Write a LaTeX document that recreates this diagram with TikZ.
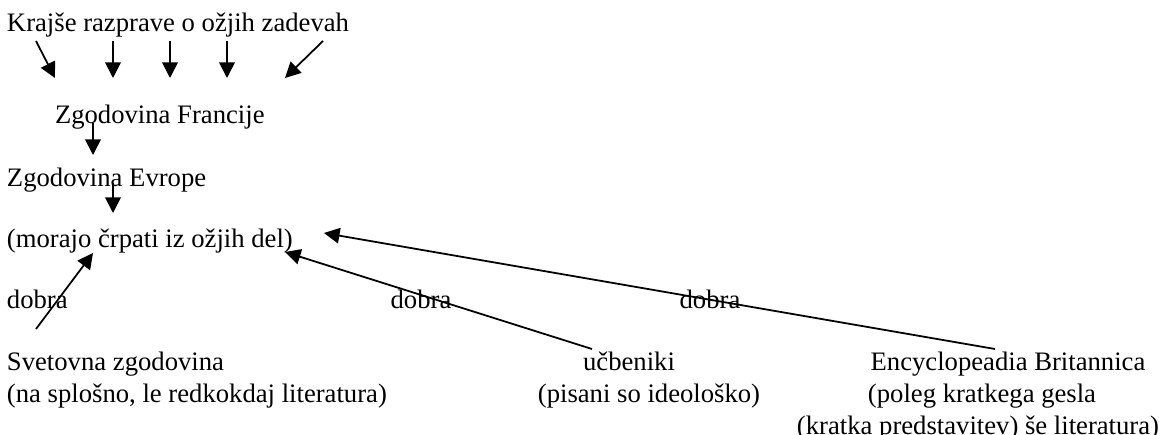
\documentclass[tikz,border=0pt]{standalone}
\usepackage{fontspec}
\setmainfont{Liberation Serif}
\usetikzlibrary{arrows.meta}
\tikzset{
  besedilo/.style={inner sep=0pt, outer sep=0pt, font=\fontsize{12}{14.4}\selectfont},
  puscica/.style={line width=0.8pt, -{Triangle[length=7pt,width=7pt]}}
}

\begin{document}
\begin{tikzpicture}[x=0.45pt,y=-0.45pt]
\useasboundingbox (0,0) rectangle (1159,434);
%Text
\node[besedilo, anchor=base west] (krajse) at (7,31) {Krajše razprave o ožjih zadevah};
\node[besedilo, anchor=base west] (francija) at (55,123) {Zgodovina Francije};
\node[besedilo, anchor=base west] (evropa) at (7,186) {Zgodovina Evrope};
\node[besedilo, anchor=base west] (morajo) at (7,247) {(morajo črpati iz ožjih del)};
\node[besedilo, anchor=base west] (dobraA) at (7,308) {dobra};
\node[besedilo, anchor=base] (dobraB) at (421,308) {dobra};
\node[besedilo, anchor=base] (dobraC) at (710,308) {dobra};
\node[besedilo, anchor=base west] (svetovna) at (7,370) {Svetovna zgodovina};
\node[besedilo, anchor=base west] (svetovnaB) at (7,402) {(na splošno, le redkokdaj literatura)};
\node[besedilo, anchor=base] (ucbeniki) at (629,370) {učbeniki};
\node[besedilo, anchor=base] (ucbenikiB) at (649,402) {(pisani so ideološko)};
\node[besedilo, anchor=base] (britannica) at (1008,370) {Encyclopeadia Britannica};
\node[besedilo, anchor=base] (britannicaB) at (982,402) {(poleg kratkega gesla};
\node[besedilo, anchor=base] (britannicaC) at (978,434) {(kratka predstavitev) še literatura)};
%Puscice zgoraj
\foreach \z/\k in {29/0, 106/58, 163/115, 220/172, 316/230}
  \draw[puscica] ([shift={(\z,10)}]krajse.base west) -- ([shift={(\k,-45)}]francija.base west);
\draw[puscica] ([shift={(38,0)}]francija.base west) -- ([shift={(86,-31)}]evropa.base west);
\draw[puscica] ([shift={(106,-3)}]evropa.base west) -- ([shift={(106,-34)}]morajo.base west);
%Puscice spodaj
\draw[puscica] ([shift={(29,-41)}]svetovna.base west) -- ([shift={(86,6)}]morajo.base west);
\draw[puscica] ([shift={(-37,-21)}]ucbeniki.base) -- ([shift={(278,5)}]morajo.base west);
\draw[puscica] ([shift={(-13,-21)}]britannica.base) -- ([shift={(317,-14)}]morajo.base west);
\end{tikzpicture}
\end{document}
